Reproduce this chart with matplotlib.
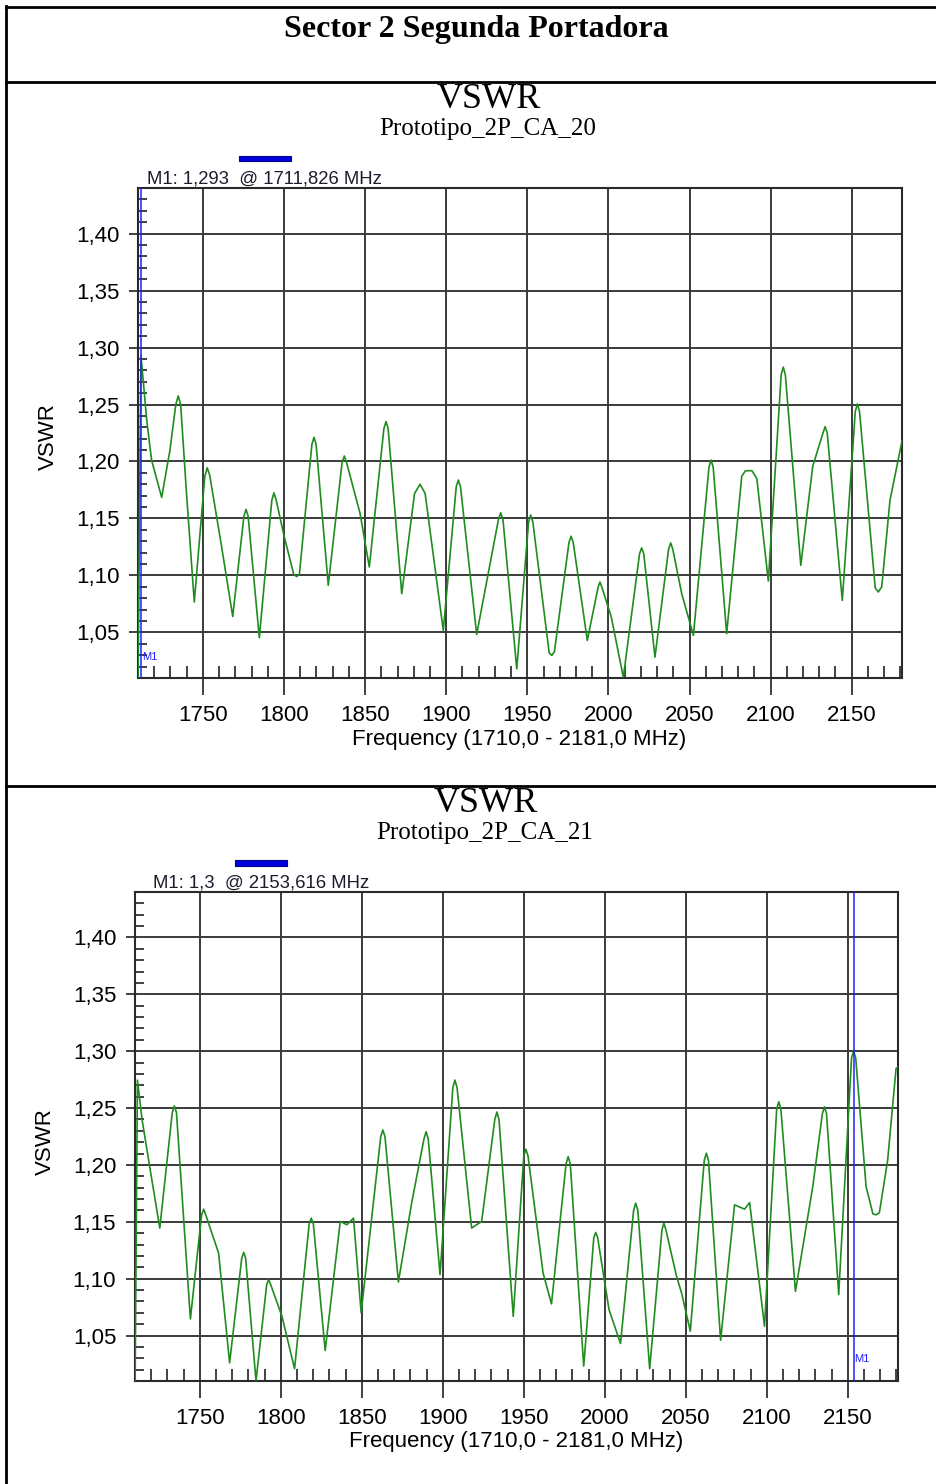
import matplotlib
matplotlib.use("Agg")
import matplotlib.pyplot as plt
from matplotlib.ticker import FixedLocator, MultipleLocator, FuncFormatter
from matplotlib.patches import Rectangle
from matplotlib.lines import Line2D

# ---------------------------------------------------------------- data
page_title = "Sector 2 Segunda Portadora"
chart_title = "VSWR"
x_label = "Frequency (1710,0 - 2181,0 MHz)"
y_label = "VSWR"

freq_range = (1710.0, 2181.0)
vswr_range = (1.01, 1.44)
x_major = [1750, 1800, 1850, 1900, 1950, 2000, 2050, 2100, 2150]
y_major = [1.05, 1.10, 1.15, 1.20, 1.25, 1.30, 1.35, 1.40]

# Prototipo_2P_CA_20 : (MHz, VSWR)
ca20_name = "Prototipo_2P_CA_20"
ca20_marker = (1711.826, 1.293)
ca20_points = [
    (1710.0, 1.000), (1711.826, 1.293), (1715.4, 1.236), (1718.4, 1.201),
    (1724.6, 1.1685), (1729.7, 1.210), (1733.3, 1.250), (1734.8, 1.2576),
    (1736.3, 1.250), (1740.0, 1.170), (1744.7, 1.0767), (1751.2, 1.187),
    (1752.7, 1.1945), (1754.2, 1.188), (1761.0, 1.130), (1768.4, 1.064),
    (1775.3, 1.152), (1776.6, 1.158), (1777.9, 1.152), (1784.8, 1.0453),
    (1792.5, 1.166), (1793.8, 1.1725), (1795.2, 1.166), (1800.0, 1.135),
    (1806.0, 1.101), (1807.8, 1.099), (1809.5, 1.101), (1817.2, 1.215),
    (1818.5, 1.2212), (1819.8, 1.215), (1827.3, 1.0913), (1835.8, 1.199),
    (1837.2, 1.2048), (1838.6, 1.199), (1846.9, 1.1544), (1852.6, 1.1074),
    (1861.6, 1.229), (1862.9, 1.235), (1864.2, 1.229), (1872.6, 1.084),
    (1880.5, 1.172), (1883.9, 1.180), (1887.0, 1.172), (1898.2, 1.0518),
    (1906.2, 1.178), (1907.5, 1.1837), (1908.8, 1.178), (1918.8, 1.0482),
    (1932.2, 1.149), (1933.6, 1.155), (1935.0, 1.149), (1943.5, 1.018),
    (1950.8, 1.147), (1952.1, 1.153), (1953.4, 1.147), (1963.5, 1.032),
    (1965.1, 1.0298), (1966.7, 1.033), (1975.7, 1.129), (1977.0, 1.1344),
    (1978.3, 1.129), (1987.0, 1.043), (1993.7, 1.090), (1994.8, 1.0942),
    (1995.9, 1.090), (2001.7, 1.064), (2009.2, 1.0107), (2019.2, 1.119),
    (2020.5, 1.1242), (2021.8, 1.119), (2028.7, 1.0283), (2037.1, 1.123),
    (2038.4, 1.1285), (2039.7, 1.123), (2045.2, 1.084), (2052.4, 1.0474),
    (2062.0, 1.195), (2063.3, 1.2013), (2064.6, 1.195), (2072.9, 1.0489),
    (2082.2, 1.187), (2084.5, 1.1919), (2088.5, 1.1919), (2091.5, 1.185),
    (2098.6, 1.0951), (2106.5, 1.276), (2107.8, 1.2828), (2109.1, 1.276),
    (2118.6, 1.1089), (2126.0, 1.196), (2132.3, 1.225), (2133.6, 1.2306),
    (2134.9, 1.225), (2144.2, 1.0781), (2152.2, 1.244), (2153.5, 1.2505),
    (2154.8, 1.244), (2164.5, 1.089), (2166.4, 1.0855), (2168.5, 1.090),
    (2173.6, 1.166), (2181.0, 1.218),
]

# Prototipo_2P_CA_21 : (MHz, VSWR)
ca21_name = "Prototipo_2P_CA_21"
ca21_marker = (2153.616, 1.3)
ca21_points = [
    (1710.0, 1.000), (1711.5, 1.2746), (1714.4, 1.2395), (1719.4, 1.1956),
    (1725.3, 1.1445), (1733.0, 1.246), (1734.3, 1.252), (1735.6, 1.246),
    (1744.2, 1.0646), (1751.1, 1.156), (1752.4, 1.1611), (1753.7, 1.156),
    (1761.6, 1.1225), (1768.4, 1.026), (1775.9, 1.118), (1777.1, 1.1231),
    (1778.3, 1.118), (1784.7, 1.010), (1791.3, 1.095), (1792.5, 1.0991),
    (1793.7, 1.095), (1800.7, 1.067), (1808.5, 1.0208), (1817.5, 1.148),
    (1818.8, 1.1532), (1820.1, 1.148), (1827.4, 1.0368), (1836.7, 1.1503),
    (1840.8, 1.1474), (1844.9, 1.1532), (1849.6, 1.0699), (1861.7, 1.225),
    (1863.0, 1.2307), (1864.3, 1.225), (1872.6, 1.0971), (1880.8, 1.1667),
    (1888.4, 1.223), (1889.7, 1.2292), (1891.0, 1.223), (1898.3, 1.1035),
    (1906.2, 1.268), (1907.5, 1.2746), (1908.8, 1.268), (1917.8, 1.1445),
    (1924.0, 1.1503), (1932.1, 1.240), (1933.4, 1.2465), (1934.7, 1.240),
    (1943.5, 1.0669), (1950.0, 1.208), (1951.3, 1.2138), (1952.6, 1.208),
    (1961.9, 1.105), (1967.1, 1.0778), (1976.1, 1.201), (1977.4, 1.2073),
    (1978.7, 1.201), (1987.0, 1.0231), (1993.2, 1.136), (1994.4, 1.1406),
    (1995.6, 1.136), (2002.6, 1.0728), (2009.7, 1.043), (2017.8, 1.160),
    (2019.1, 1.1664), (2020.4, 1.160), (2027.7, 1.0208), (2035.3, 1.143),
    (2036.5, 1.1489), (2037.7, 1.143), (2044.3, 1.102), (2047.4, 1.0874),
    (2052.8, 1.0538), (2061.4, 1.204), (2062.7, 1.2103), (2064.0, 1.204),
    (2071.5, 1.0459), (2080.1, 1.1649), (2086.3, 1.1611), (2089.4, 1.1669),
    (2098.6, 1.0582), (2106.1, 1.249), (2107.4, 1.2555), (2108.7, 1.249),
    (2117.7, 1.0889), (2128.4, 1.181), (2134.3, 1.245), (2135.6, 1.2511),
    (2136.9, 1.245), (2144.4, 1.086), (2152.3, 1.294), (2153.616, 1.300),
    (2154.9, 1.294), (2161.3, 1.181), (2165.5, 1.157), (2167.4, 1.1561),
    (2169.5, 1.158), (2174.6, 1.204), (2179.8, 1.2848), (2181.0, 1.286),
]

# ---------------------------------------------------------------- figure
W, H = 936, 1484
fig = plt.figure(figsize=(W / 100, H / 100), dpi=100)
fig.patch.set_facecolor("white")

SANS = "Liberation Sans"
SERIF = "Liberation Serif"
plt.rcParams["font.family"] = SANS


def fx(x):
    return x / W


def fy(y):
    return 1 - y / H


def comma(v, _pos=None):
    return f"{v:.2f}".replace(".", ",")


# page frame and cell separators
frame_kw = dict(color="black", lw=2.0, transform=fig.transFigure)
fig.add_artist(Line2D([fx(6), fx(6)], [fy(6), fy(H)], **frame_kw))
fig.add_artist(Line2D([fx(6), 1.0], [fy(7), fy(7)], **frame_kw))
fig.add_artist(Line2D([fx(6), 1.0], [fy(82), fy(82)], **frame_kw))
fig.add_artist(Line2D([fx(6), 1.0], [fy(786), fy(786)], **frame_kw))

fig.text(fx(476), fy(29), page_title, family=SERIF, weight="bold",
         fontsize=23, ha="center", va="center")


def draw_panel(points, name, marker, box, title_xy, sub_xy, bar_box,
               mtext_xy, mlabel_v, xlabel_xy, ylabel_xy):
    left, top, right, bottom = box
    ax = fig.add_axes([fx(left), fy(bottom), (right - left) / W,
                       (bottom - top) / H])
    freq = [p[0] for p in points]
    vswr = [p[1] for p in points]

    ax.plot(freq, vswr, color="#1e8c1e", lw=1.2, zorder=3)
    ax.axvline(marker[0], color="#2222ff", lw=1.1, zorder=4)
    ax.text(marker[0] + 0.5, mlabel_v, "M1", color="#2222ff", fontsize=8,
            ha="left", va="center", zorder=5)

    ax.set_xlim(*freq_range)
    ax.set_ylim(*vswr_range)

    ax.xaxis.set_major_locator(FixedLocator(x_major))
    ax.xaxis.set_minor_locator(MultipleLocator(10))
    ax.yaxis.set_major_locator(FixedLocator(y_major))
    ax.yaxis.set_minor_locator(MultipleLocator(0.01))
    ax.yaxis.set_major_formatter(FuncFormatter(comma))

    ax.tick_params(axis="x", which="major", direction="out", length=12.5,
                   width=1.3, color="#333333", labelsize=16, pad=7)
    ax.tick_params(axis="x", which="minor", direction="in", length=8.6,
                   width=1.3, color="#333333")
    ax.tick_params(axis="y", which="major", direction="out", length=6.5,
                   width=1.3, color="#333333", labelsize=16, pad=7)
    ax.tick_params(axis="y", which="minor", direction="in", length=6.5,
                   width=1.3, color="#333333")

    ax.grid(True, which="major", color="#3a3a3a", lw=1.4, zorder=1)
    for s in ax.spines.values():
        s.set_color("#2a2a2a")
        s.set_linewidth(1.5)

    fig.text(fx(title_xy[0]), fy(title_xy[1]), chart_title, family=SERIF,
             fontsize=26, ha="center", va="center")
    fig.text(fx(sub_xy[0]), fy(sub_xy[1]), name, family=SERIF,
             fontsize=18, ha="center", va="center")

    bx0, by0, bx1, by1 = bar_box
    fig.add_artist(Rectangle((fx(bx0), fy(by1)), (bx1 - bx0) / W,
                             (by1 - by0) / H, transform=fig.transFigure,
                             facecolor="#0000dd", edgecolor="#00008a", lw=0.8))

    mval = f"{marker[1]:.3f}".rstrip("0").replace(".", ",")
    mfreq = f"{marker[0]:.3f}".replace(".", ",")
    fig.text(fx(mtext_xy[0]), fy(mtext_xy[1]),
             f"M1: {mval}  @ {mfreq} MHz", fontsize=13.3, color="#1c1c2c",
             ha="left", va="center")

    fig.text(fx(xlabel_xy[0]), fy(xlabel_xy[1]), x_label, fontsize=16,
             ha="center", va="center")
    fig.text(fx(ylabel_xy[0]), fy(ylabel_xy[1]), y_label, fontsize=16,
             rotation=90, ha="center", va="center")
    return ax


draw_panel(ca20_points, ca20_name, ca20_marker,
           box=(138, 188, 902, 678), title_xy=(489, 100), sub_xy=(488, 129),
           bar_box=(239, 156, 291, 161), mtext_xy=(147, 179), mlabel_v=1.028,
           xlabel_xy=(519, 739), ylabel_xy=(48, 437))

draw_panel(ca21_points, ca21_name, ca21_marker,
           box=(135, 892, 898, 1381), title_xy=(486, 804), sub_xy=(485, 833),
           bar_box=(235, 860, 287, 866), mtext_xy=(153, 883), mlabel_v=1.029,
           xlabel_xy=(516, 1442), ylabel_xy=(45, 1142))

fig.savefig("out.png", dpi=100, facecolor="white")
